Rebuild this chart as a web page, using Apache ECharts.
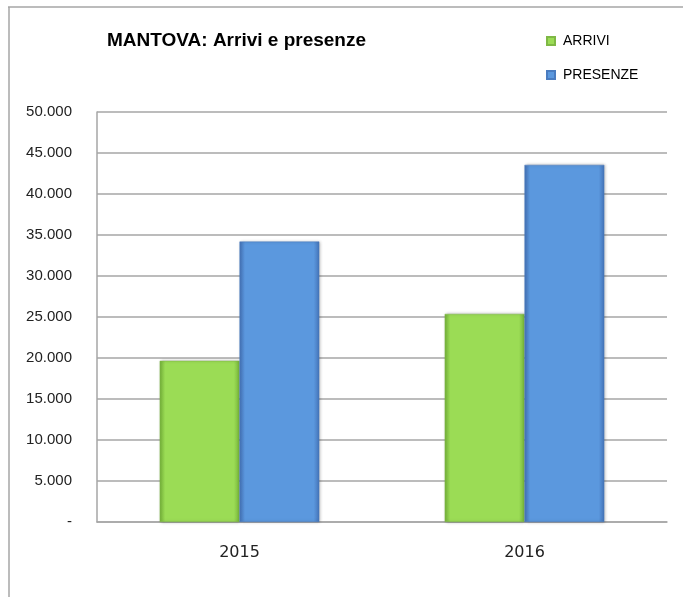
<!DOCTYPE html>
<html>
<head>
<meta charset="utf-8">
<script src="https://cdn.jsdelivr.net/npm/echarts@6/dist/echarts.min.js"></script>
<style>html,body{margin:0;padding:0;background:#fff}#c{width:683px;height:597px}</style>
</head>
<body>
<div id="c"></div>
<script>
const titleText = 'MANTOVA: Arrivi e presenze';
const categories = ['2015', '2016'];
const seriesNames = ['ARRIVI', 'PRESENZE'];
const arrivi = [19650, 25370];
const presenze = [34200, 43550];

function bevel(edge, base) {
  return {
    type: 'linear', x: 0, y: 0, x2: 1, y2: 0,
    colorStops: [
      {offset: 0, color: edge}, {offset: 0.07, color: base},
      {offset: 0.93, color: base}, {offset: 1, color: edge}
    ]
  };
}
function fmt(v) {
  if (v === 0) return '-';
  return String(v).replace(/\B(?=(\d{3})+(?!\d))/g, '.');
}
const chart = echarts.init(document.getElementById('c'), null, {renderer: 'canvas'});
chart.setOption({
  animation: false,
  backgroundColor: '#fff',
  title: {
    text: titleText, left: 102, top: 26,
    textStyle: {fontFamily: 'Liberation Sans', fontWeight: 'bold', fontSize: 19, color: '#000'}
  },
  legend: {
    orient: 'vertical', left: 541, top: 29, itemWidth: 8, itemHeight: 8, itemGap: 20,
    icon: 'rect',
    textStyle: {fontFamily: 'Liberation Sans', fontSize: 14, color: '#000', padding: [0, 0, 0, 3]},
    data: seriesNames
  },
  grid: {left: 97, top: 112, right: 16, bottom: 75, containLabel: false},
  xAxis: {
    type: 'category', data: categories,
    axisLine: {lineStyle: {color: '#a6a6a6', width: 1.5}},
    axisTick: {show: false},
    axisLabel: {fontFamily: 'DejaVu Sans', fontSize: 16, color: '#222', margin: 23}
  },
  yAxis: {
    type: 'value', min: 0, max: 50000, interval: 5000,
    axisLine: {show: true, lineStyle: {color: '#a6a6a6', width: 1.5}},
    axisTick: {show: false},
    splitLine: {lineStyle: {color: '#a6a6a6', width: 1.5}},
    axisLabel: {fontFamily: 'Liberation Sans', fontSize: 15, color: '#222', margin: 25, formatter: fmt}
  },
  graphic: [
    {type: 'line', shape: {x1: 8, y1: 7, x2: 683, y2: 7}, style: {stroke: '#a6a6a6', lineWidth: 1.5}},
    {type: 'line', shape: {x1: 9, y1: 7, x2: 9, y2: 597}, style: {stroke: '#a6a6a6', lineWidth: 1.5}}
  ],
  series: [
    {
      name: seriesNames[0], type: 'bar', data: arrivi, barGap: '0%', barCategoryGap: '44%',
      itemStyle: {color: bevel('#76b33a', '#9bdc55'), borderColor: '#7fb845', borderWidth: 0.5,
        shadowColor: 'rgba(0,0,0,0.3)', shadowBlur: 3, shadowOffsetX: 1}
    },
    {
      name: seriesNames[1], type: 'bar', data: presenze,
      itemStyle: {color: bevel('#4473b8', '#5b98de'), borderColor: '#4a7cc0', borderWidth: 0.5,
        shadowColor: 'rgba(0,0,0,0.3)', shadowBlur: 3, shadowOffsetX: 1}
    }
  ]
});
</script>
</body>
</html>
